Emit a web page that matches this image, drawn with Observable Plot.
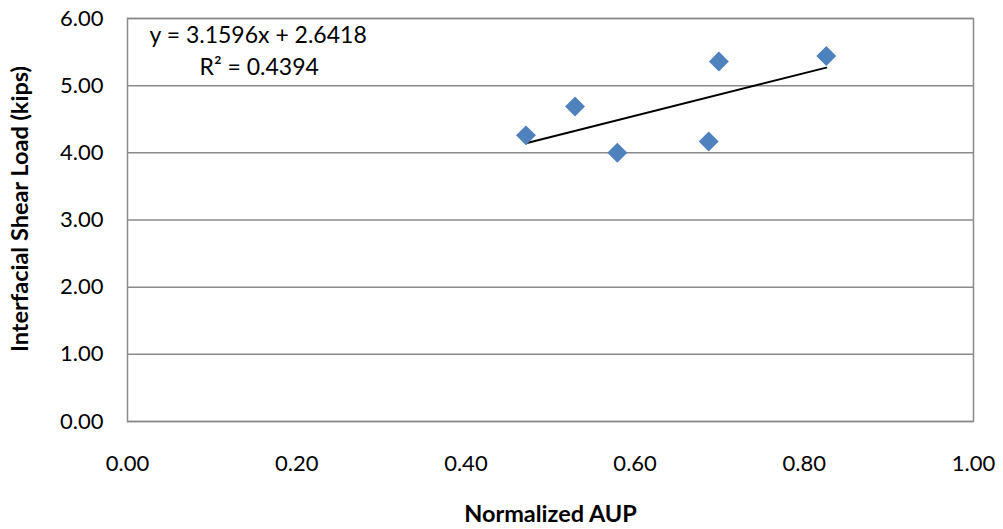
<!DOCTYPE html>
<html>
<head>
<meta charset="utf-8">
<script src="https://cdn.jsdelivr.net/npm/d3@7"></script>
<script src="https://cdn.jsdelivr.net/npm/@observablehq/plot@0.6"></script>
<style>
  html, body { margin: 0; padding: 0; background: #fff; }
  #chart svg { display: block; }
</style>
</head>
<body>
<div id="chart"></div>
<script>
// Data
const normalizedAUP = [0.471, 0.529, 0.579, 0.687, 0.699, 0.826];
const shearLoad     = [4.26, 4.69, 4.00, 4.17, 5.36, 5.44];
const xTicks = [0, 0.2, 0.4, 0.6, 0.8, 1.0];
const yTicks = [0, 1, 2, 3, 4, 5, 6];
const equationText = "y = 3.1596x + 2.6418";
const r2Text = "R² = 0.4394";
const xTitle = "Normalized AUP";
const yTitle = "Interfacial Shear Load (kips)";

const data = normalizedAUP.map((x, i) => ({x, y: shearLoad[i]}));

const font = "Lato, 'Open Sans', sans-serif";
const grid = "#8a8a8a";

const chart = Plot.plot({
  width: 1003,
  height: 529,
  marginLeft: 127,
  marginRight: 30,
  marginTop: 18,
  marginBottom: 108,
  style: {fontFamily: font, background: "#fff", color: "#000"},
  x: {domain: [0, 1]},
  y: {domain: [0, 6]},
  marks: [
    Plot.gridY(yTicks, {stroke: grid, strokeOpacity: 1, strokeWidth: 1.5}),
    Plot.frame({stroke: grid, strokeWidth: 1.5}),
    Plot.axisY(yTicks, {tickSize: 0, tickPadding: 24, tickFormat: d => d.toFixed(2), fontSize: 22, fill: "#000", label: null}),
    Plot.axisX(xTicks, {tickSize: 0, tickPadding: 34, tickFormat: d => d.toFixed(2), fontSize: 22, fill: "#000", label: null}),
    Plot.linearRegressionY(data, {x: "x", y: "y", ci: 0, stroke: "#000", strokeWidth: 2}),
    Plot.dot(data, {x: "x", y: "y", symbol: "diamond2", r: 9, fill: "#4F81BD", stroke: "none"}),
    Plot.text([equationText], {frameAnchor: "top-left", dx: 22, dy: 8, fontSize: 23, textAnchor: "start", fill: "#000"}),
    Plot.text([r2Text], {frameAnchor: "top-left", dx: 72, dy: 40, fontSize: 23, textAnchor: "start", fill: "#000"}),
    Plot.text([xTitle], {frameAnchor: "bottom", dy: 100, fontSize: 23.5, fontWeight: "bold", fill: "#000"}),
    Plot.text([yTitle], {frameAnchor: "left", dx: -107, dy: -11, rotate: -90, textAnchor: "middle", fontSize: 23.5, fontWeight: "bold", fill: "#000"})
  ]
});

document.getElementById("chart").appendChild(chart);
</script>
</body>
</html>
